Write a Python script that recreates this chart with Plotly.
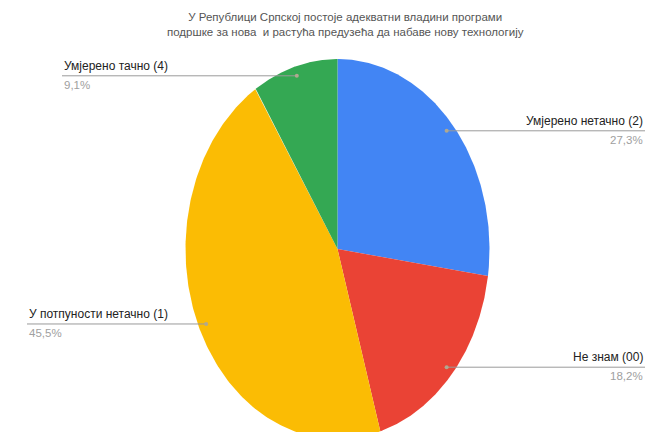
import numpy as np
import plotly.graph_objects as go

# ---- data ----
categories = ["Умјерено нетачно (2)", "Не знам (00)", "У потпуности нетачно (1)", "Умјерено тачно (4)"]
percents = [27.3, 18.2, 45.5, 9.1]
colors = ["#4285F4", "#EA4335", "#FBBC04", "#34A853"]
title_lines = ["У Републици Српској постоје адекватни владини програми",
               "подршке за нова  и растућа предузећа да набаве нову технологију"]

# ---- geometry (layout only) ----
W, H = 649, 432
cx, cy, rx, ry = 337.5, 249.0, 152.0, 190.0
x_range = [(0 - cx) / rx, (W - cx) / rx]
y_range = [(cy - H) / ry, (cy - 0) / ry]

# label placement per slice: side, x anchor in pixels
label_side = ["right", "right", "left", "left"]
label_x_px = [645, 645, 27, 62]

fig = go.Figure()

total = sum(percents)
start = 0.0
mids = []
for cat, p, col in zip(categories, percents, colors):
    frac = p / total
    a0, a1 = start * 2 * np.pi, (start + frac) * 2 * np.pi
    t = np.linspace(a0, a1, 200)
    xs = np.concatenate([[0], np.sin(t), [0]])
    ys = np.concatenate([[0], np.cos(t), [0]])
    fig.add_trace(go.Scatter(x=xs, y=ys, fill="toself", fillcolor=col, mode="lines",
                             line=dict(width=0, color=col), hoverinfo="text",
                             text=f"{cat}: {p}%", showlegend=False))
    mids.append((start + frac / 2) * 2 * np.pi)
    start += frac

annotations = []
for cat, p, m, side, lx in zip(categories, percents, mids, label_side, label_x_px):
    dx, dy = 0.95 * np.sin(m), 0.95 * np.cos(m)
    lxd = (lx - cx) / rx
    # leader line
    fig.add_trace(go.Scatter(x=[dx, lxd], y=[dy, dy], mode="lines",
                             line=dict(color="#9a9a9a", width=1), hoverinfo="skip", showlegend=False))
    fig.add_trace(go.Scatter(x=[dx], y=[dy], mode="markers",
                             marker=dict(color="#b0a890", size=4), hoverinfo="skip", showlegend=False))
    anchor = "right" if side == "right" else "left"
    annotations.append(dict(x=lxd, y=dy, xref="x", yref="y", text=cat, showarrow=False,
                            xanchor=anchor, yanchor="bottom", yshift=1,
                            font=dict(family="Liberation Sans, Arial", size=12, color="#222222")))
    annotations.append(dict(x=lxd, y=dy, xref="x", yref="y",
                            text=f"{p:.1f}%".replace(".", ","), showarrow=False,
                            xanchor=anchor, yanchor="top", yshift=-1,
                            font=dict(family="Liberation Sans, Arial", size=11.5, color="#a0a0a0")))

annotations.append(dict(x=345 / W, y=1 - 9 / H, xref="paper", yref="paper",
                        text="<br>".join(title_lines), showarrow=False,
                        xanchor="center", yanchor="top", align="center",
                        font=dict(family="Liberation Sans, Arial", size=11.5, color="#555555")))

fig.update_layout(
    width=W, height=H,
    margin=dict(l=0, r=0, t=0, b=0),
    paper_bgcolor="white", plot_bgcolor="white",
    xaxis=dict(range=x_range, visible=False, fixedrange=True),
    yaxis=dict(range=y_range, visible=False, fixedrange=True),
    annotations=annotations,
    showlegend=False,
)

fig.write_html("out.html", config={"displayModeBar": False},
               post_script="document.body.style.margin='0';document.body.style.overflow='hidden';")
